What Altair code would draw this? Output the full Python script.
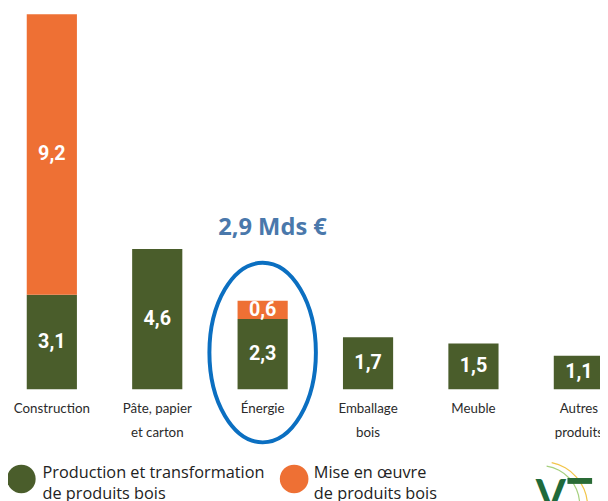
import altair as alt
import pandas as pd

# ---- data ----
categories = ["Construction", "Pâte, papier|et carton", "Énergie", "Emballage|bois", "Meuble", "Autres|produits"]
production = [3.1, 4.6, 2.3, 1.7, 1.5, 1.1]
mise_en_oeuvre = [9.2, None, 0.6, None, None, None]
series_names = ["Production et transformation|de produits bois", "Mise en œuvre|de produits bois"]
series_colors = ["#4a5d2b", "#ee7034"]
annotation_category = "Énergie"
annotation_text = "2,9 Mds €"
annotation_level = 5.3
ellipse_level = 1.2

rows = []
for cat, p, m in zip(categories, production, mise_en_oeuvre):
    rows.append({"cat": cat, "series": series_names[0], "idx": 0, "value": p})
    if m is not None:
        rows.append({"cat": cat, "series": series_names[1], "idx": 1, "value": m})
df = pd.DataFrame(rows)

leg_df = pd.DataFrame({"series": series_names, "idx": [0, 1]})

FONT = "Open Sans"

x_enc = alt.X(
    "cat:N",
    sort=categories,
    scale=alt.Scale(domain=categories, range=[19, 604], paddingInner=0.524, paddingOuter=0),
    axis=alt.Axis(
        title=None, domain=False, ticks=False, grid=False, labelAngle=0,
        labelExpr="split(datum.label, '|')", labelFont="Lato", labelFontSize=13.5,
        labelColor="#2b2b2b", labelPadding=13, labelLineHeight=24,
        labelOverlap=False, labelLimit=300,
    ),
)
y_scale = alt.Scale(domain=[0, 12.3], nice=False, zero=True)
color_scale = alt.Scale(domain=series_names, range=series_colors)

bars = alt.Chart(df).mark_bar().encode(
    x=x_enc,
    y=alt.Y("value:Q", stack="zero", scale=y_scale, axis=None),
    color=alt.Color("series:N", sort=series_names, scale=color_scale, legend=None),
    order=alt.Order("idx:Q", sort="ascending"),
)

labels = alt.Chart(df).transform_window(
    cum="sum(value)", groupby=["cat"], sort=[alt.SortField("idx", order="ascending")],
    frame=[None, 0],
).transform_calculate(
    mid="datum.cum - datum.value / 2",
    txt="replace(format(datum.value, '.1f'), '.', ',')",
).mark_text(
    font="Roboto", fontWeight="bold", fontSize=20, color="white", baseline="middle"
).encode(
    x=alt.X("cat:N", sort=categories),
    y=alt.Y("mid:Q", scale=y_scale),
    text="txt:N",
)

ann_df = pd.DataFrame({"cat": [annotation_category], "lvl": [annotation_level], "t": [annotation_text]})
annotation = alt.Chart(ann_df).mark_text(
    font="Open Sans", fontWeight="bold", fontSize=24, color="#4a78ab", dx=10, baseline="middle"
).encode(
    x=alt.X("cat:N", sort=categories),
    y=alt.Y("lvl:Q", scale=y_scale),
    text="t:N",
)

ell_df = pd.DataFrame({"cat": [annotation_category], "lvl": [ellipse_level]})
ellipse = alt.Chart(ell_df).mark_point(
    shape="M -0.593 0 A 0.593 1 0 1 0 0.593 0 A 0.593 1 0 1 0 -0.593 0 Z",
    size=33124, filled=False, stroke="#0b6fc1", strokeWidth=4, opacity=1,
).encode(
    x=alt.X("cat:N", sort=categories),
    y=alt.Y("lvl:Q", scale=y_scale),
)

# ---- legend (drawn as marks so the two-line labels get the right line height) ----
leg_layers = []
leg_sym_x = [13.5, 290]
leg_txt_x = [35, 310]
for i, name in enumerate(series_names):
    sub = leg_df[leg_df["idx"] == i]
    leg_layers.append(
        alt.Chart(sub).mark_point(shape="circle", filled=True, size=841, opacity=1).encode(
            x=alt.value(leg_sym_x[i]), y=alt.value(471),
            color=alt.Color("series:N", scale=color_scale, legend=None),
        )
    )
    leg_layers.append(
        alt.Chart(sub).transform_calculate(lab="split(datum.series, '|')").mark_text(
            font=FONT, fontSize=16.5, color="#222222", align="left", baseline="alphabetic", lineHeight=21,
        ).encode(x=alt.value(leg_txt_x[i]), y=alt.value(470), text="lab:N")
    )

one = pd.DataFrame({"a": [0]})
logo_v = alt.Chart(one).mark_text(
    text="V", font="Lato", fontWeight="bold", fontSize=44, color="#1f6a3b", baseline="top", align="left"
).encode(x=alt.value(535), y=alt.value(468))
logo_bar = alt.Chart(one).mark_rule(color="#2a6b36", strokeWidth=6).encode(
    x=alt.value(567), x2=alt.value(592), y=alt.value(473)
)
logo_arc1 = alt.Chart(one).mark_arc(color="#a6d07e").encode(
    x=alt.value(540), y=alt.value(497), radius=alt.value(40), radius2=alt.value(38.8),
    theta=alt.value(0.15), theta2=alt.value(1.5),
)
logo_arc2 = alt.Chart(one).mark_arc(color="#f2c54a").encode(
    x=alt.value(542), y=alt.value(499), radius=alt.value(46), radius2=alt.value(44.8),
    theta=alt.value(0.2), theta2=alt.value(1.5),
)

chart = alt.layer(
    bars, labels, annotation, ellipse, *leg_layers, logo_arc1, logo_arc2, logo_v, logo_bar
).properties(
    width=600, height=380,
    background="white",
    autosize=alt.AutoSizeParams(type="none"),
    padding={"left": 0, "top": 3, "right": 0, "bottom": 110},
).configure_view(stroke=None)

chart.save("out.html", embed_options={"renderer": "svg", "actions": False})
